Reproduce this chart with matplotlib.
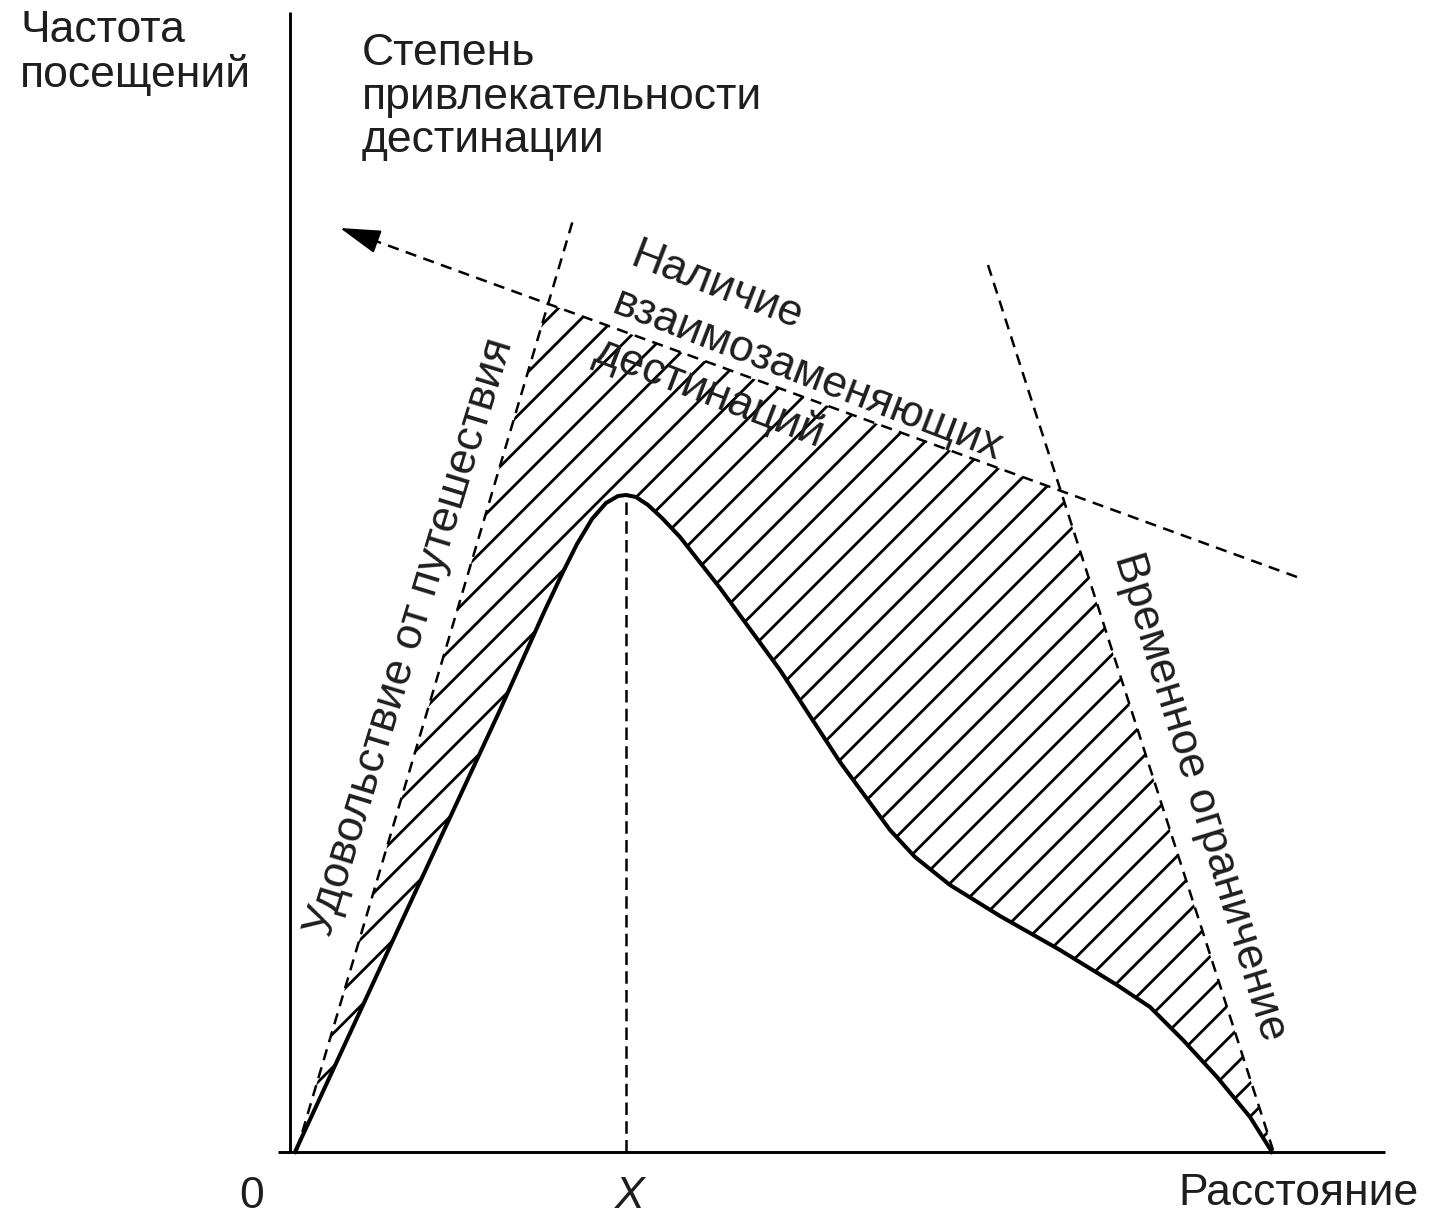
import numpy as np
import matplotlib
matplotlib.use("Agg")
import matplotlib.pyplot as plt

plt.rcParams['font.family'] = ['Liberation Sans', 'DejaVu Sans']
plt.rcParams['hatch.linewidth'] = 2.0

# --- data (chart units: origin at the axis corner, 1 unit = 1 px) ---
# visit frequency curve
curve_x = [5, 110, 210, 255, 272, 287, 302, 316, 328, 336, 346, 358, 372, 390,
           430, 490, 550, 600, 625, 660, 710, 770, 827, 860, 893, 927, 960, 982]
curve_y = [0, 227, 442, 542, 578, 608, 633, 649, 656, 657, 655, 647, 634, 615,
           564, 482, 390, 322, 295, 267, 236, 202, 167, 145, 112, 75, 35, 0]

# dashed boundaries (start, end)
pleasure_x = [7, 283]      # "Удовольствие от путешествия"
pleasure_y = [2, 932]
subst_x = [1007, 50]       # "Наличие взаимозаменяющих дестинаций" (arrow at the end)
subst_y = [575, 924]
time_x = [698, 983]        # "Временное ограничение"
time_y = [887, 2]
peak_x = 336               # X
peak_y = 657

axis_top = 1140
axis_right = 1095

fz = 32
txt = '#1e1e1e'


def intersect(ax_, ay_, bx_, by_):
    p, r = np.array([ax_[0], ay_[0]], float), np.array([ax_[1] - ax_[0], ay_[1] - ay_[0]], float)
    q, s = np.array([bx_[0], by_[0]], float), np.array([bx_[1] - bx_[0], by_[1] - by_[0]], float)
    t = np.cross(q - p, s) / np.cross(r, s)
    return p + t * r


fig = plt.figure(figsize=(14.33, 12.26), dpi=100)
ax = fig.add_axes([0, 0, 1, 1])
ax.set_xlim(-290, 1143)
ax.set_ylim(-74, 1152)
ax.axis('off')

# axes
ax.plot([0, 0], [0, axis_top], color='k', lw=2.1, solid_capstyle='butt')
ax.plot([-12, axis_right], [0, 0], color='k', lw=2.1, solid_capstyle='butt')

# hatched region between curve and the three constraints
p1 = intersect(pleasure_x, pleasure_y, subst_x, subst_y)
p2 = intersect(time_x, time_y, subst_x, subst_y)
poly_x = [pleasure_x[0], p1[0], p2[0], time_x[1]] + curve_x[::-1]
poly_y = [pleasure_y[0], p1[1], p2[1], time_y[1]] + curve_y[::-1]
ax.fill(poly_x, poly_y, facecolor='none', edgecolor='k', lw=0, hatch='/')

# dashed lines
dash = dict(color='k', lw=1.8, linestyle=(0, (4.5, 3)))
ax.plot(pleasure_x, pleasure_y, **dash)
ax.plot(time_x, time_y, **dash)
d = np.array([subst_x[1] - subst_x[0], subst_y[1] - subst_y[0]], float)
d /= np.hypot(*d)
ax.plot([subst_x[0], subst_x[1] - 20 * d[0]], [subst_y[0], subst_y[1] - 20 * d[1]], **dash)
ax.annotate('', xy=(subst_x[1], subst_y[1]),
            xytext=(subst_x[1] - 34 * d[0], subst_y[1] - 34 * d[1]),
            arrowprops=dict(arrowstyle='-|>,head_length=1.7,head_width=0.5',
                            color='k', lw=1.5, shrinkA=0, shrinkB=0,
                            mutation_scale=15))
ax.plot([peak_x, peak_x], [0, peak_y], color='k', lw=1.8, linestyle=(0, (5, 2.5)))

# curve
ax.plot(curve_x, curve_y, color='k', lw=2.9, solid_joinstyle='round')

# labels
ax.text(-270, 1110, 'Частота', fontsize=fz, color=txt, ha='left', va='baseline')
ax.text(-270, 1065, 'посещений', fontsize=fz, color=txt, ha='left', va='baseline')
ax.text(72, 1087, 'Степень', fontsize=fz, color=txt, ha='left', va='baseline')
ax.text(72, 1043, 'привлекательности', fontsize=fz, color=txt, ha='left', va='baseline')
ax.text(72, 1000, 'дестинации', fontsize=fz, color=txt, ha='left', va='baseline')

ax.text(888, -53, 'Расстояние', fontsize=fz, color=txt, ha='left', va='baseline')
ax.text(-38, -56, '0', fontsize=fz, color=txt, ha='center', va='baseline')
ax.text(340, -56, 'X', fontsize=fz, color=txt, ha='center', va='baseline', style='italic')

ax.text(120, 515, 'Удовольствие от путешествия', fontsize=fz, color=txt,
        rotation=73, rotation_mode='anchor', ha='center', va='center')
ax.text(910, 355, 'Временное ограничение', fontsize=fz, color=txt,
        rotation=-73, rotation_mode='anchor', ha='center', va='center')

ang = np.deg2rad(21)
step = np.array([-np.sin(ang), -np.cos(ang)]) * 51
start = np.array([338.0, 887.0])
for k, line in enumerate(['Наличие', 'взаимозаменяющих', 'дестинаций']):
    pos = start + k * step
    ax.text(pos[0], pos[1], line, fontsize=fz, color=txt, rotation=-21,
            rotation_mode='anchor', ha='left', va='baseline')

fig.savefig('out.png', dpi=100, facecolor='white')
